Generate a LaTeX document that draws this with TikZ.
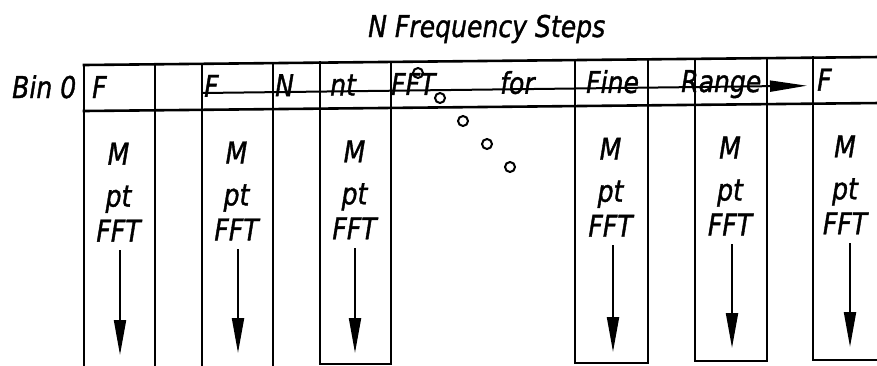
\documentclass[tikz,border=0pt]{standalone}
\usepackage{fontspec}
\setmainfont{DejaVu Sans Condensed}[FakeStretch=0.93,FakeBold=1.2]
\usetikzlibrary{arrows.meta}
\begin{document}
\begin{tikzpicture}[x=1pt,y=-1pt,
  grid/.style={line width=2.6pt, line cap=rect},
  txt/.style={inner sep=0pt, font=\fontsize{30}{32}\selectfont\itshape, anchor=base west},
  ctxt/.style={inner sep=0pt, font=\fontsize{30}{32}\selectfont\itshape, anchor=base},
  vflow/.style={line width=2pt, -{Triangle[length=35pt 0,width=12pt 0]}},
  hflow/.style={line width=2pt, -{Triangle[length=37pt 0,width=11pt 0]}},
  dot/.style={circle, draw, line width=2pt, minimum size=10pt, inner sep=0pt}]
\useasboundingbox (0,0) rectangle (877,365);

% title
\node[txt] (title) at (368,37) {N Frequency Steps};

% horizontal lines of the table
\draw[grid] (84,65) -- (880,57);
\draw[grid] (84,111) -- (880,103);

% left columns (open at the bottom)
\draw[grid] (84,65) -- (84,367);
\draw[grid] (155,64.3) -- (155,367);
\draw[grid] (202,63.8) -- (202,367);
\draw[grid] (273,63.1) -- (273,367);
\draw[grid] (320,62.6) -- (320,364) -- (391,364) -- (391,61.9);
% right columns (closed boxes)
\draw[grid] (575,60) -- (575,363) -- (648,363) -- (648,59.3);
\draw[grid] (695,58.8) -- (695,361) -- (767,361) -- (767,58.1);
\draw[grid] (813,57.4) -- (813,360) -- (880,360);

% header row labels
\node[txt] (bin) at (12,98) {Bin 0};
\node[txt] (h1) at (92,98) {F};
\node[txt] (h2) at (204,96.8) {F};
\node[txt] (h3) at (275,96.1) {N};
\node[txt] (h4) at (330,95.5) {nt};
\node[txt] (h5) at (391,94.9) {FFT};
\node[txt] (h6) at (500,93.8) {for};
\node[txt] (h7) at (586,92.9) {Fine};
\node[txt] (h8) at (681,92) {Range};
\node[txt] (h9) at (817,90.6) {F};

% strike-through arrow across header row
\coordinate (hs) at (202,93);
\coordinate (he) at (807,85.7);
\draw[hflow] (hs) -- (he);

% ellipsis dots
\node[dot] (d1) at (418,73) {};
\node[dot] (d2) at (440,98) {};
\node[dot] (d3) at (463,121) {};
\node[dot] (d4) at (487,144) {};
\node[dot] (d5) at (510,167) {};

% column bodies
\foreach \n/\cx/\o in {1/118.5/0.4, 2/236.5/1.6, 3/354.5/2.7, 4/610.5/5.3, 5/730/6.5, 6/845/7.7}{
  \node[ctxt] (m\n) at (\cx,165-\o) {M};
  \node[ctxt] (p\n) at (\cx,207-\o) {pt};
  \node[ctxt] (f\n) at (\cx,242-\o) {FFT};
}

% downward arrows
\coordinate (s1) at (120,250);  \coordinate (t1) at (120,355);
\coordinate (s2) at (238,249);  \coordinate (t2) at (238,353);
\coordinate (s3) at (355,248);  \coordinate (t3) at (355,353);
\coordinate (s4) at (613,245);  \coordinate (t4) at (613,352);
\coordinate (s5) at (732,244);  \coordinate (t5) at (732,348);
\coordinate (s6) at (850,243);  \coordinate (t6) at (850,347);
\foreach \n in {1,...,6}{ \draw[vflow] (s\n) -- (t\n); }
\end{tikzpicture}
\end{document}
